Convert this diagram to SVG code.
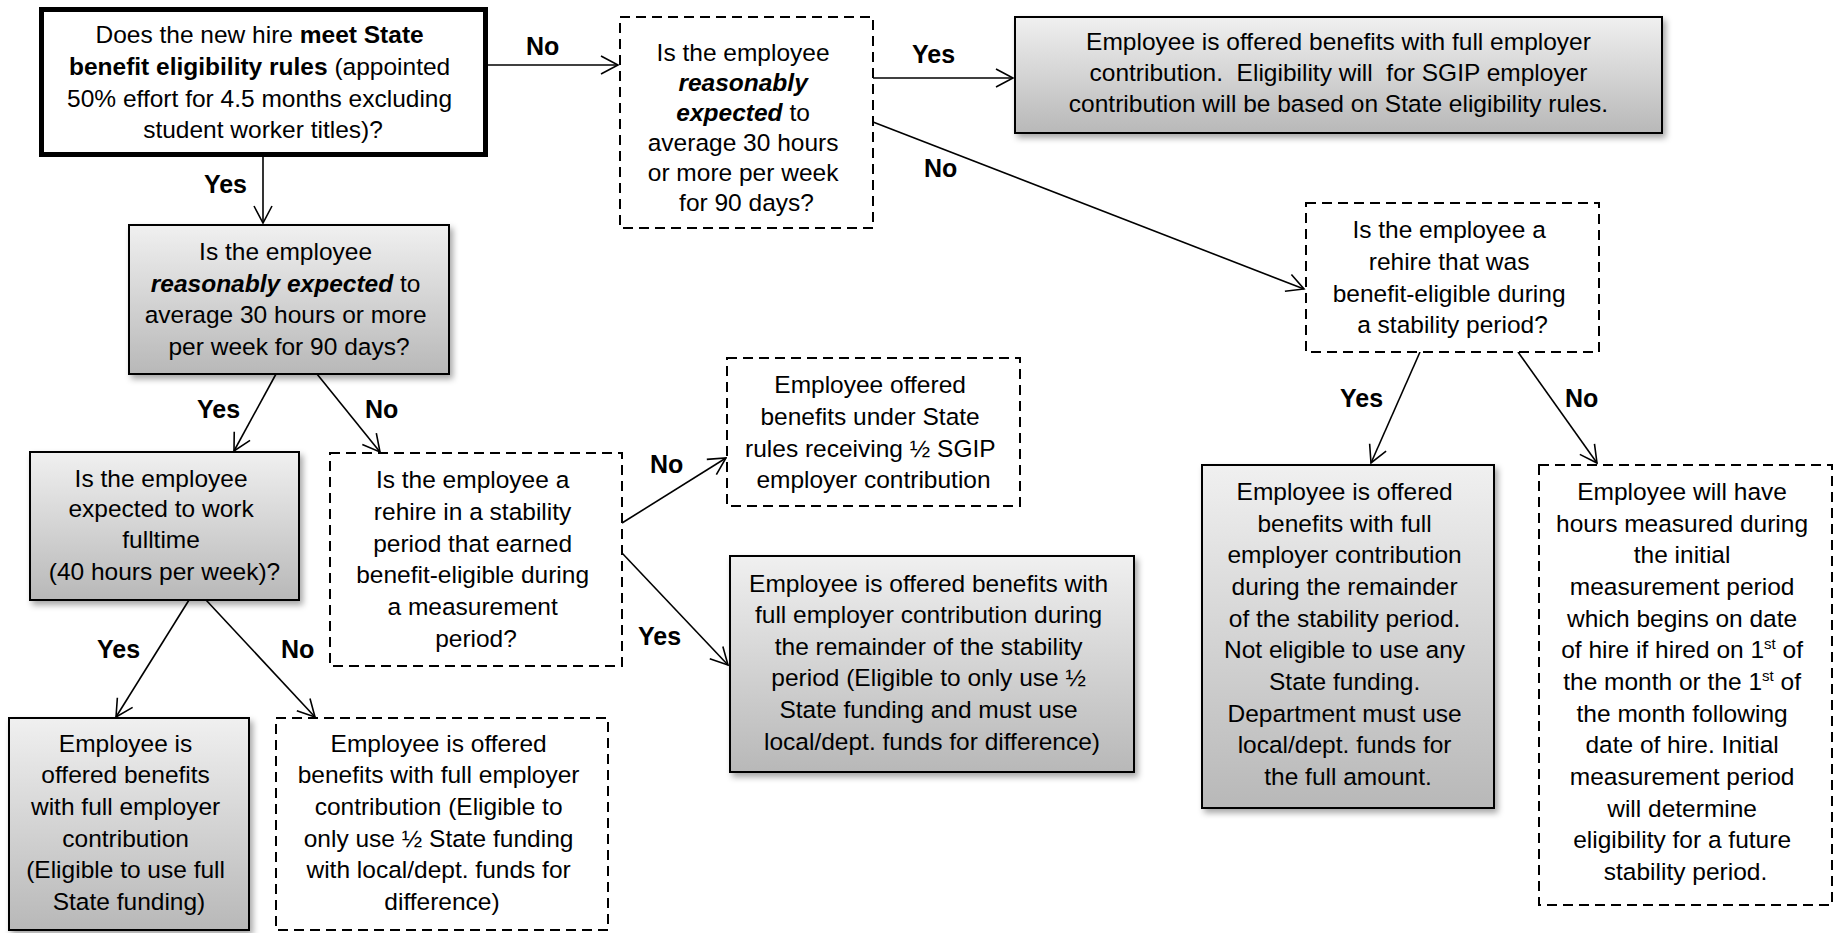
<svg xmlns="http://www.w3.org/2000/svg" width="1837" height="933" viewBox="0 0 1837 933">
<defs>
<linearGradient id="gray" x1="0" y1="0" x2="0" y2="1">
<stop offset="0" stop-color="#f0f0f0"/>
<stop offset="1" stop-color="#b8b8b8"/>
</linearGradient>
<filter id="shadow" x="-10%" y="-10%" width="125%" height="130%">
<feDropShadow dx="3" dy="4" stdDeviation="3" flood-color="#000" flood-opacity="0.35"/>
</filter>
<marker id="arr" markerUnits="userSpaceOnUse" markerWidth="22" markerHeight="22" viewBox="-20 -11 22 22" refX="0" refY="0" orient="auto">
<path d="M-17,-9 L0,0 L-17,9" fill="none" stroke="#000" stroke-width="1.6"/>
</marker>
</defs>
<style>
.t{font-family:"Liberation Sans",Arial,sans-serif;font-size:24.5px;fill:#000;text-anchor:middle}
.lbl{font-family:"Liberation Sans",Arial,sans-serif;font-size:25px;font-weight:bold;fill:#000}
.b{font-weight:bold}
.bi{font-weight:bold;font-style:italic}
.sup{font-size:15px}
.grayBox{fill:url(#gray);stroke:#000;stroke-width:2;filter:url(#shadow)}
.dashBox{fill:#fff;stroke:#000;stroke-width:2;stroke-dasharray:10 6}
.thickBox{fill:#fff;stroke:#000;stroke-width:5}
.conn{stroke:#000;stroke-width:1.6;fill:none;marker-end:url(#arr)}
</style>
<rect x="0" y="0" width="1837" height="933" fill="#fff"/>

<g id="connectors">
<line class="conn" x1="488" y1="65" x2="618" y2="65"/>
<line class="conn" x1="263" y1="157" x2="263" y2="223"/>
<line class="conn" x1="873" y1="78" x2="1013" y2="78"/>
<line class="conn" x1="873" y1="122" x2="1304" y2="289"/>
<line class="conn" x1="276" y1="374" x2="234" y2="451"/>
<line class="conn" x1="317" y1="374" x2="380" y2="452"/>
<line class="conn" x1="189" y1="600" x2="116" y2="717"/>
<line class="conn" x1="206" y1="600" x2="315" y2="717"/>
<line class="conn" x1="622" y1="523" x2="726" y2="458"/>
<line class="conn" x1="622" y1="553" x2="728" y2="665"/>
<line class="conn" x1="1420" y1="352" x2="1371" y2="463"/>
<line class="conn" x1="1518" y1="352" x2="1597" y2="463"/>
<text class="lbl" x="526" y="55">No</text>
<text class="lbl" x="247" y="193" text-anchor="end">Yes</text>
<text class="lbl" x="912" y="63">Yes</text>
<text class="lbl" x="924" y="177">No</text>
<text class="lbl" x="197" y="418">Yes</text>
<text class="lbl" x="365" y="418">No</text>
<text class="lbl" x="97" y="658">Yes</text>
<text class="lbl" x="281" y="658">No</text>
<text class="lbl" x="650" y="473">No</text>
<text class="lbl" x="638" y="645">Yes</text>
<text class="lbl" x="1340" y="407">Yes</text>
<text class="lbl" x="1565" y="407">No</text>
</g>

<g id="nodeA">
<rect class="thickBox" x="41.5" y="9.5" width="444" height="145"/>
<text class="t">
<tspan x="263" y="43">Does the new hire <tspan class="b">meet State</tspan></tspan>
<tspan x="263" y="75"><tspan class="b">benefit eligibility rules</tspan> (appointed</tspan>
<tspan x="263" y="107">50% effort for 4.5 months excluding</tspan>
<tspan x="263" y="138">student worker titles)?</tspan>
</text>
</g>

<g id="nodeB">
<rect class="dashBox" x="620" y="17" width="253" height="211"/>
<text class="t">
<tspan x="746.5" y="61">Is the employee</tspan>
<tspan x="746.5" y="91" class="bi">reasonably</tspan>
<tspan x="746.5" y="121"><tspan class="bi">expected</tspan> to</tspan>
<tspan x="746.5" y="151">average 30 hours</tspan>
<tspan x="746.5" y="181">or more per week</tspan>
<tspan x="746.5" y="211">for 90 days?</tspan>
</text>
</g>

<g id="nodeC">
<rect class="grayBox" x="1015" y="17" width="647" height="116"/>
<text class="t" xml:space="preserve"><tspan x="1338.5" y="50">Employee is offered benefits with full employer</tspan><tspan x="1338.5" y="81">contribution.  Eligibility will  for SGIP employer</tspan><tspan x="1338.5" y="112">contribution will be based on State eligibility rules.</tspan></text>
</g>

<g id="nodeD">
<rect class="grayBox" x="129" y="225" width="320" height="149"/>
<text class="t">
<tspan x="289" y="260">Is the employee</tspan>
<tspan x="289" y="292"><tspan class="bi">reasonably expected</tspan> to</tspan>
<tspan x="289" y="323">average 30 hours or more</tspan>
<tspan x="289" y="355">per week for 90 days?</tspan>
</text>
</g>

<g id="nodeE">
<rect class="dashBox" x="1306" y="203" width="293" height="149"/>
<text class="t">
<tspan x="1452.5" y="238">Is the employee a</tspan>
<tspan x="1452.5" y="270">rehire that was</tspan>
<tspan x="1452.5" y="302">benefit-eligible during</tspan>
<tspan x="1452.5" y="333">a stability period?</tspan>
</text>
</g>

<g id="nodeF">
<rect class="grayBox" x="30" y="452" width="269" height="148"/>
<text class="t">
<tspan x="164.5" y="487">Is the employee</tspan>
<tspan x="164.5" y="517">expected to work</tspan>
<tspan x="164.5" y="548">fulltime</tspan>
<tspan x="164.5" y="580">(40 hours per week)?</tspan>
</text>
</g>

<g id="nodeG">
<rect class="dashBox" x="330" y="453" width="292" height="213"/>
<text class="t">
<tspan x="476" y="488">Is the employee a</tspan>
<tspan x="476" y="520">rehire in a stability</tspan>
<tspan x="476" y="552">period that earned</tspan>
<tspan x="476" y="583">benefit-eligible during</tspan>
<tspan x="476" y="615">a measurement</tspan>
<tspan x="476" y="647">period?</tspan>
</text>
</g>

<g id="nodeH">
<rect class="dashBox" x="727" y="358" width="293" height="148"/>
<text class="t">
<tspan x="873.5" y="393">Employee offered</tspan>
<tspan x="873.5" y="425">benefits under State</tspan>
<tspan x="873.5" y="457">rules receiving ½ SGIP</tspan>
<tspan x="873.5" y="488">employer contribution</tspan>
</text>
</g>

<g id="nodeI">
<rect class="grayBox" x="9" y="718" width="240" height="212"/>
<text class="t">
<tspan x="129" y="752">Employee is</tspan>
<tspan x="129" y="783">offered benefits</tspan>
<tspan x="129" y="815">with full employer</tspan>
<tspan x="129" y="847">contribution</tspan>
<tspan x="129" y="878">(Eligible to use full</tspan>
<tspan x="129" y="910">State funding)</tspan>
</text>
</g>

<g id="nodeJ">
<rect class="dashBox" x="276" y="718" width="332" height="212"/>
<text class="t">
<tspan x="442" y="752">Employee is offered</tspan>
<tspan x="442" y="783">benefits with full employer</tspan>
<tspan x="442" y="815">contribution (Eligible to</tspan>
<tspan x="442" y="847">only use ½ State funding</tspan>
<tspan x="442" y="878">with local/dept. funds for</tspan>
<tspan x="442" y="910">difference)</tspan>
</text>
</g>

<g id="nodeK">
<rect class="grayBox" x="730" y="556" width="404" height="216"/>
<text class="t">
<tspan x="932" y="592">Employee is offered benefits with</tspan>
<tspan x="932" y="623">full employer contribution during</tspan>
<tspan x="932" y="655">the remainder of the stability</tspan>
<tspan x="932" y="686">period (Eligible to only use ½</tspan>
<tspan x="932" y="718">State funding and must use</tspan>
<tspan x="932" y="750">local/dept. funds for difference)</tspan>
</text>
</g>

<g id="nodeL">
<rect class="grayBox" x="1202" y="465" width="292" height="343"/>
<text class="t">
<tspan x="1348" y="500">Employee is offered</tspan>
<tspan x="1348" y="532">benefits with full</tspan>
<tspan x="1348" y="563">employer contribution</tspan>
<tspan x="1348" y="595">during the remainder</tspan>
<tspan x="1348" y="627">of the stability period.</tspan>
<tspan x="1348" y="658">Not eligible to use any</tspan>
<tspan x="1348" y="690">State funding.</tspan>
<tspan x="1348" y="722">Department must use</tspan>
<tspan x="1348" y="753">local/dept. funds for</tspan>
<tspan x="1348" y="785">the full amount.</tspan>
</text>
</g>

<g id="nodeM">
<rect class="dashBox" x="1539" y="465" width="293" height="440"/>
<text class="t">
<tspan x="1685.5" y="500">Employee will have</tspan>
<tspan x="1685.5" y="532">hours measured during</tspan>
<tspan x="1685.5" y="563">the initial</tspan>
<tspan x="1685.5" y="595">measurement period</tspan>
<tspan x="1685.5" y="627">which begins on date</tspan>
<tspan x="1685.5" y="658">of hire if hired on 1<tspan class="sup" dy="-9">st</tspan><tspan dy="9"> of</tspan></tspan>
<tspan x="1685.5" y="690">the month or the 1<tspan class="sup" dy="-9">st</tspan><tspan dy="9"> of</tspan></tspan>
<tspan x="1685.5" y="722">the month following</tspan>
<tspan x="1685.5" y="753">date of hire. Initial</tspan>
<tspan x="1685.5" y="785">measurement period</tspan>
<tspan x="1685.5" y="817">will determine</tspan>
<tspan x="1685.5" y="848">eligibility for a future</tspan>
<tspan x="1685.5" y="880">stability period.</tspan>
</text>
</g>
</svg>
